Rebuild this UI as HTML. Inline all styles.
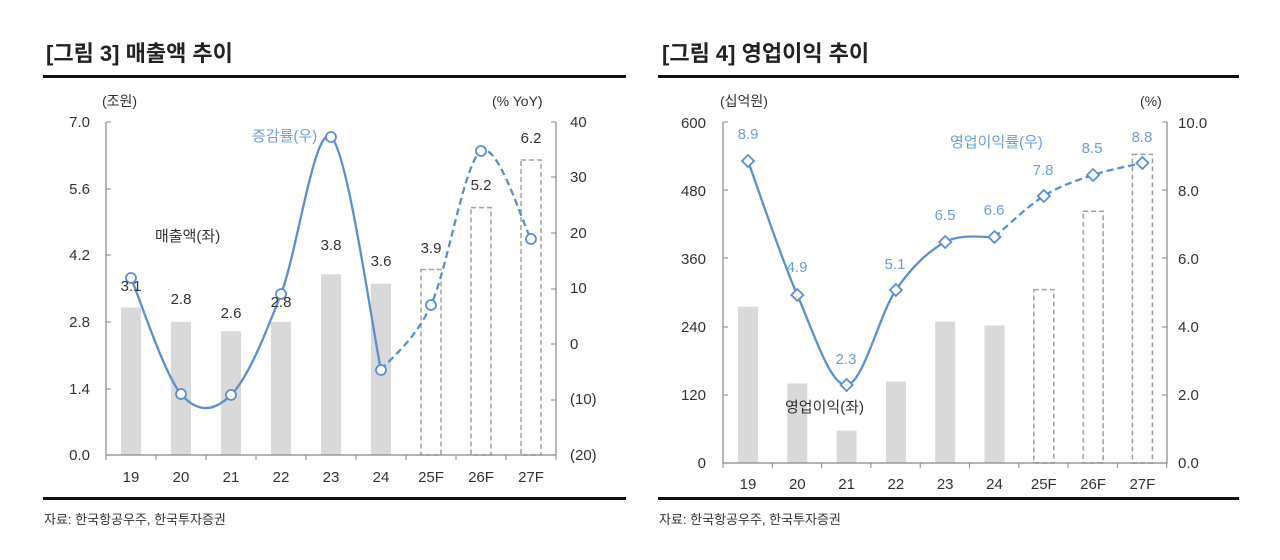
<!DOCTYPE html>
<html><head><meta charset="utf-8">
<style>
html,body{margin:0;padding:0;background:#fff;}
svg{display:block;font-family:"Liberation Sans","Noto Sans CJK KR",sans-serif;}
</style></head>
<body>
<svg id="s" width="1280" height="560" viewBox="0 0 1280 560" xmlns="http://www.w3.org/2000/svg">
<rect width="1280" height="560" fill="#fff"/>
<text x="46" y="61" font-size="22" font-weight="bold" fill="#222">[그림 3] 매출액 추이</text>
<rect x="43" y="75" width="583" height="3" fill="#111"/>
<rect x="43" y="497" width="583" height="3" fill="#111"/>
<text x="44" y="524" font-size="13" fill="#333">자료: 한국항공우주, 한국투자증권</text>
<text x="662" y="61" font-size="22" font-weight="bold" fill="#222">[그림 4] 영업이익 추이</text>
<rect x="658" y="75" width="581" height="3" fill="#111"/>
<rect x="658" y="497" width="581" height="3" fill="#111"/>
<text x="659" y="524" font-size="13" fill="#333">자료: 한국항공우주, 한국투자증권</text>

<g font-size="15" fill="#333">
<text x="102" y="106" font-size="14">(조원)</text>
<text x="492" y="106" font-size="14">(% YoY)</text>
<g text-anchor="end">
<text x="90" y="127">7.0</text><text x="90" y="194">5.6</text><text x="90" y="260">4.2</text>
<text x="90" y="327">2.8</text><text x="90" y="394">1.4</text><text x="90" y="460">0.0</text>
</g>
<text x="570" y="127">40</text><text x="570" y="182">30</text><text x="570" y="238">20</text>
<text x="570" y="293">10</text><text x="570" y="349">0</text><text x="570" y="404">(10)</text><text x="570" y="460">(20)</text>
<g text-anchor="middle">
<text x="131" y="482">19</text><text x="181" y="482">20</text><text x="231" y="482">21</text><text x="281" y="482">22</text>
<text x="331" y="482">23</text><text x="381" y="482">24</text><text x="431" y="482">25F</text><text x="481" y="482">26F</text><text x="531" y="482">27F</text>
</g>
<text x="720" y="106" font-size="14">(십억원)</text>
<text x="1140" y="106" font-size="14">(%)</text>
</g>
<g id="dyn"></g>
</svg>
<script>
var NS="http://www.w3.org/2000/svg";var g=document.getElementById("dyn");
function el(t,a,txt){var e=document.createElementNS(NS,t);for(var k in a)e.setAttribute(k,a[k]);if(txt!==undefined)e.textContent=txt;g.appendChild(e);return e;}
function cr(p){var d="M"+p[0][0]+","+p[0][1];for(var i=0;i<p.length-1;i++){var p0=p[i-1]||p[i],p1=p[i],p2=p[i+1],p3=p[i+2]||p2;var t=6;d+=" C"+(p1[0]+(p2[0]-p0[0])/t)+","+(p1[1]+(p2[1]-p0[1])/t)+" "+(p2[0]-(p3[0]-p1[0])/t)+","+(p2[1]-(p3[1]-p1[1])/t)+" "+p2[0]+","+p2[1];}return d;}
var blue="#5b8fcf",lbl="#6d9fd6",bar="#d9d9d9",dash="#a0a0a0";
function chart(o){
 var L=o.L,R=o.R,T=122,B=o.B,sp=o.sp,x0=o.x0,bw=o.bw;
 o.bars.forEach(function(v,i){var x=x0+i*sp,y=B-(v/o.lmax)*(B-T);
  if(i<6)el("rect",{x:x-bw/2,y:y,width:bw,height:B-y,fill:bar});
  else el("rect",{x:x-bw/2,y:y,width:bw,height:B-y,fill:"none",stroke:dash,"stroke-width":1.5,"stroke-dasharray":"5,3"});
 });
 el("path",{d:"M"+L+","+T+" V"+B+" H"+R+" V"+T,stroke:"#888","stroke-width":1.2,fill:"none"});
 o.lt.forEach(function(y){el("line",{x1:L,x2:L+5,y1:y,y2:y,stroke:"#888"});});
 o.rt.forEach(function(y){el("line",{x1:R-5,x2:R,y1:y,y2:y,stroke:"#888"});});
 for(var i=0;i<=9;i++){var x=L+i*sp;el("line",{x1:x,x2:x,y1:B,y2:B+5,stroke:"#888"});}
 var pts=o.pts.map(function(y,i){return [x0+i*sp,y];});
 el("path",{d:cr(pts.slice(0,6)),stroke:blue,"stroke-width":2.3,fill:"none"});
 el("path",{d:cr(pts.slice(5)),stroke:blue,"stroke-width":2.3,fill:"none","stroke-dasharray":"7,4"});
 pts.forEach(function(p){
  if(o.mk=="c")el("circle",{cx:p[0],cy:p[1],r:5,fill:"#fff",stroke:blue,"stroke-width":1.8});
  else el("path",{d:"M"+p[0]+","+(p[1]-6)+" L"+(p[0]+6)+","+p[1]+" L"+p[0]+","+(p[1]+6)+" L"+(p[0]-6)+","+p[1]+"Z",fill:"#fff",stroke:blue,"stroke-width":1.8});
 });
}
chart({L:106,R:556,B:455,sp:50,x0:131,bw:20,lmax:7,bars:[3.1,2.8,2.6,2.8,3.8,3.6,3.9,5.2,6.2],
 lt:[122,189,255,322,389],rt:[122,177,233,289,344,400],mk:"c",
 pts:[278,394,395,294,137,370,305,151,239]});
chart({L:723,R:1167,B:463,sp:49.3,x0:748,bw:20,lmax:600,bars:[275,140,57,143,249,242,305,443,543],
 lt:[122,190,258,327,395],rt:[122,190,258,327,395],mk:"d",
 pts:[161,295,385,290,242,237,196,175,163]});
function T(x,y,s,fill,anchor,fs){el("text",{x:x,y:y,fill:fill||"#333","text-anchor":anchor||"middle","font-size":fs||15},s);}
[["3.1",131,291],["2.8",181,304],["2.6",231,318],["2.8",281,307],["3.8",331,250],["3.6",381,266],["3.9",431,253],["5.2",481,190],["6.2",531,143]].forEach(function(a){T(a[1],a[2],a[0]);});
T(155,241,"매출액(좌)","#333","start");
T(252,141,"증감률(우)",lbl,"start");
[["600",128],["480",196],["360",264],["240",332],["120",400],["0",468]].forEach(function(a){T(706,a[1],a[0],"#333","end");});
[["10.0",128],["8.0",196],["6.0",264],["4.0",332],["2.0",400],["0.0",468]].forEach(function(a){T(1178,a[1],a[0],"#333","start");});
["19","20","21","22","23","24","25F","26F","27F"].forEach(function(s,i){T(748+i*49.3,489,s);});
[["8.9",748,139],["4.9",797,272],["2.3",846,364],["5.1",895,269],["6.5",945,220],["6.6",994,215],["7.8",1043,175],["8.5",1092,153],["8.8",1142,142]].forEach(function(a){T(a[1],a[2],a[0],lbl);});
T(950,147,"영업이익률(우)",lbl,"start");
T(785,412,"영업이익(좌)","#333","start");
</script>
</body></html>
